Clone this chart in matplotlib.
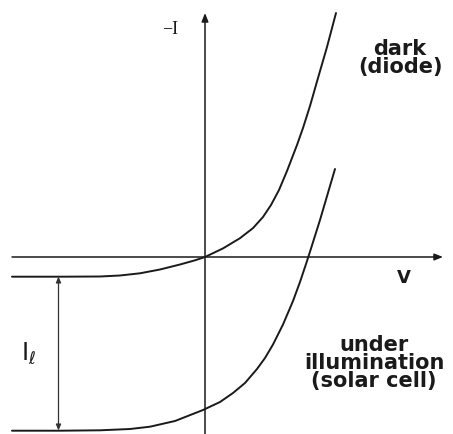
import matplotlib
matplotlib.use("Agg")
import matplotlib.pyplot as plt

# Dark (diode) curve (V, -I) in arbitrary units
dark_v = [-193, -145, -105, -85, -65, -45, -25, -10, 0, 18, 35, 48, 58, 66, 74, 82, 92, 98, 105, 113, 122, 131]
dark_i = [-19.7, -19.7, -19.5, -18.5, -16.3, -12.5, -7.5, -3.3, 0, 8.6, 18.8, 28.9, 40, 52, 67, 86, 112,
          129, 151, 179, 210, 244]

# Under illumination (solar cell) curve
light_v = [-193, -145, -105, -75, -55, -30, -2, 15, 28, 40, 52, 60, 68, 78, 88, 95, 103, 115, 130]
light_i = [-173.7, -173.7, -173.3, -172, -169.7, -164, -153, -145, -136, -126, -112, -101, -87.5, -67.5,
           -44, -25, -1, 37, 88]

# Photocurrent I_L span
il_top = -19.5
il_bottom = -173.5

fig = plt.figure(figsize=(4.53, 4.34), dpi=100)
ax = fig.add_axes([0, 0, 1, 1])
ax.set_xlim(-205, 248)
ax.set_ylim(-177, 257)
ax.axis("off")

ink = "#1a1a1a"

# axes with arrows
ax.annotate("", xy=(238, 0), xytext=(-193, 0),
            arrowprops=dict(arrowstyle="-|>,head_length=0.5,head_width=0.2", color=ink, lw=1.1,
                            shrinkA=0, shrinkB=0))
ax.annotate("", xy=(0, 244), xytext=(0, -177),
            arrowprops=dict(arrowstyle="-|>,head_length=0.5,head_width=0.2", color=ink, lw=1.1,
                            shrinkA=0, shrinkB=0))

ax.plot(dark_v, dark_i, color=ink, lw=1.4, solid_capstyle="round", solid_joinstyle="round")
ax.plot(light_v, light_i, color=ink, lw=1.4, solid_capstyle="round", solid_joinstyle="round")

# I_L double arrow
ax.annotate("", xy=(-146.5, il_top), xytext=(-146.5, il_bottom),
            arrowprops=dict(arrowstyle="<|-|>,head_length=0.35,head_width=0.15", color="#333333", lw=0.9,
                            shrinkA=0, shrinkB=0))

ax.text(-176, -96, r"$\mathrm{I}_{\ell}$", fontsize=17, color=ink, ha="center", va="center")

ax.text(-35, 228, "\u2212I", fontsize=13, color=ink, family="Liberation Serif", ha="center", va="center")
ax.text(199, -21, "V", fontsize=13, color=ink, fontweight="bold", ha="center", va="center")

ax.text(195, 199, "dark\n(diode)", fontsize=15, fontweight="bold", color=ink,
        ha="center", va="center", linespacing=0.85)
ax.text(169, -106, "under\nillumination\n(solar cell)", fontsize=15, fontweight="bold", color=ink,
        ha="center", va="center", linespacing=0.85)

fig.savefig("out.png", dpi=100)
